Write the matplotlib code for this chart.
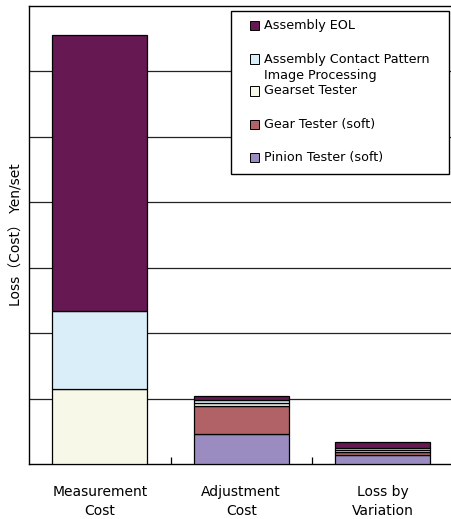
import matplotlib
matplotlib.use("Agg")
import matplotlib.pyplot as plt
from matplotlib.patches import Rectangle
import numpy as np

categories = ["Measurement\nCost", "Adjustment\nCost", "Loss by\nVariation"]

# stacked from the bottom up
series_names = [
    "Pinion Tester (soft)",
    "Gear Tester (soft)",
    "Gearset Tester",
    "Assembly Contact Pattern\nImage Processing",
    "Assembly EOL",
]
series_values = [
    [0.00, 0.46, 0.13],   # Pinion Tester (soft)
    [0.00, 0.43, 0.05],   # Gear Tester (soft)
    [1.15, 0.045, 0.03],  # Gearset Tester
    [1.19, 0.045, 0.03],  # Assembly Contact Pattern Image Processing
    [4.22, 0.06, 0.10],   # Assembly EOL
]
series_colors = ["#9a8cc0", "#b06266", "#f8f8e8", "#daeefa", "#661852"]

W, H = 451, 519
fig = plt.figure(figsize=(W / 100, H / 100), dpi=100)
ax = fig.add_axes([29 / W, (H - 464) / H, 424.5 / W, 458 / H])

x = np.arange(len(categories))
bottom = np.zeros(len(categories))
for name, vals, col in zip(series_names, series_values, series_colors):
    vals = np.array(vals)
    ax.bar(x, vals, width=0.67, bottom=bottom, color=col,
           edgecolor="black", linewidth=0.9, zorder=3)
    bottom += vals

ax.set_xlim(-0.5, 2.5)
ax.set_ylim(0, 7)
ax.set_yticks(np.arange(1, 7))
ax.set_yticklabels([])
ax.tick_params(axis="y", length=0)
ax.yaxis.grid(True, color="#222222", linewidth=0.9, zorder=1)

ax.set_xticks(x)
ax.set_xticklabels(categories, fontsize=10, linespacing=1.45)
ax.tick_params(axis="x", which="major", length=0, pad=15)
ax.set_xticks([0.5, 1.5], minor=True)
ax.tick_params(axis="x", which="minor", direction="in", length=5, width=0.9)

for s in ["left", "bottom", "top"]:
    ax.spines[s].set_color("black")
    ax.spines[s].set_linewidth(1.0)
ax.spines["right"].set_visible(False)

fig.text(17 / W, 1 - 235 / H, "Loss（Cost） Yen/set", rotation=90,
         ha="center", va="center", fontsize=10,
         family=["DejaVu Sans", "Noto Sans CJK JP"])


def fx(px):
    return px / W


def fy(py):
    return 1 - py / H


# legend box, top of the stack listed first
fig.patches.append(Rectangle((fx(230.5), fy(174)), fx(449) - fx(230.5),
                             fy(11) - fy(174), transform=fig.transFigure,
                             facecolor="white", edgecolor="black",
                             linewidth=1.0, zorder=10))
row_y = [25.5, 59, 91, 124.5, 157]
for yy, name, col in zip(row_y, series_names[::-1], series_colors[::-1]):
    fig.patches.append(Rectangle((fx(250), fy(yy + 4.5)), fx(9), 9 / H,
                                 transform=fig.transFigure, facecolor=col,
                                 edgecolor="black", linewidth=0.7, zorder=11))
    for i, ln in enumerate(name.split("\n")):
        fig.text(fx(263.5), fy(yy + 16.5 * i), ln, fontsize=9.2, ha="left",
                 va="center", zorder=12)

fig.savefig("out.png", dpi=100)
